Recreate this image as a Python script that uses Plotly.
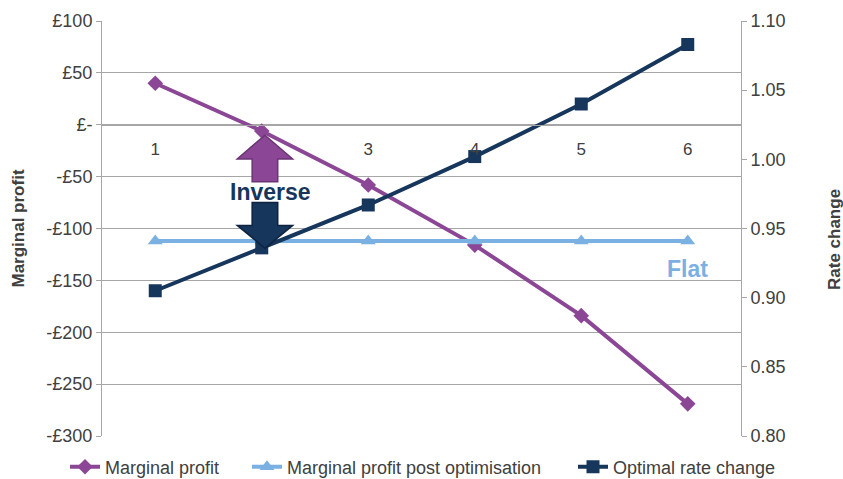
import plotly.graph_objects as go

categories = [1, 2, 3, 4, 5, 6]
marginal_profit = [40, -6, -58, -116, -184, -269]
marginal_profit_post = [-112, -112, -112, -112, -112, -112]
optimal_rate_change = [0.905, 0.936, 0.967, 1.002, 1.040, 1.083]

left_tickvals = [100, 50, 0, -50, -100, -150, -200, -250, -300]
left_ticktext = ["£100", "£50", "£-", "-£50", "-£100", "-£150", "-£200", "-£250", "-£300"]
right_tickvals = [0.80, 0.85, 0.90, 0.95, 1.00, 1.05, 1.10]
right_ticktext = ["0.80", "0.85", "0.90", "0.95", "1.00", "1.05", "1.10"]

PURPLE = "#8B4795"
LIGHTBLUE = "#7AB1E2"
NAVY = "#16365C"
TXT = "#404040"
GRID = "#A6A6A6"
FONT = "Liberation Sans, Arial, sans-serif"

W, H = 843, 479
ML, MR, MT, MB = 102, 102, 21, 43
PW = W - ML - MR
PH = H - MT - MB

fig = go.Figure()
fig.add_trace(go.Scatter(
    x=categories, y=marginal_profit, name="Marginal profit",
    mode="lines+markers", line=dict(color=PURPLE, width=4),
    marker=dict(symbol="diamond", size=12, color=PURPLE), yaxis="y", legend="legend"))
fig.add_trace(go.Scatter(
    x=categories, y=marginal_profit_post, name="Marginal profit post optimisation",
    mode="lines+markers", line=dict(color=LIGHTBLUE, width=4),
    marker=dict(symbol="triangle-up", size=13, color=LIGHTBLUE), yaxis="y", legend="legend2"))
fig.add_trace(go.Scatter(
    x=categories, y=optimal_rate_change, name="Optimal rate change",
    mode="lines+markers", line=dict(color=NAVY, width=4),
    marker=dict(symbol="square", size=13, color=NAVY), yaxis="y2", legend="legend3"))

# Block arrows around category 2
cx = 2.03
hw_head, hw_shaft = 0.26, 0.12
up = dict(tip=-10, base=-33, bottom=-55)
down = dict(top=-75, base=-97, tip=-119)
up_path = (f"M {cx-hw_shaft},{up['bottom']} L {cx-hw_shaft},{up['base']} L {cx-hw_head},{up['base']} "
           f"L {cx},{up['tip']} L {cx+hw_head},{up['base']} L {cx+hw_shaft},{up['base']} "
           f"L {cx+hw_shaft},{up['bottom']} Z")
down_path = (f"M {cx-hw_shaft},{down['top']} L {cx-hw_shaft},{down['base']} L {cx-hw_head},{down['base']} "
             f"L {cx},{down['tip']} L {cx+hw_head},{down['base']} L {cx+hw_shaft},{down['base']} "
             f"L {cx+hw_shaft},{down['top']} Z")
shapes = [
    dict(type="path", path=up_path, xref="x", yref="y", fillcolor=PURPLE,
         line=dict(color="#6A3573", width=1.5), layer="above"),
    dict(type="path", path=down_path, xref="x", yref="y", fillcolor=NAVY,
         line=dict(color="#0E2340", width=1.5), layer="above"),
]

annotations = [
    dict(text="<b>Inverse</b>", x=cx + 0.05, y=-65, xref="x", yref="y", showarrow=False,
         font=dict(size=23, color=NAVY, family=FONT)),
    dict(text="<b>Flat</b>", x=6.0, y=-139, xref="x", yref="y", showarrow=False,
         font=dict(size=23, color=LIGHTBLUE, family=FONT)),
    dict(text="<b>Marginal profit</b>", x=(18 - ML) / PW, y=0.5, xref="paper", yref="paper",
         xanchor="center", yanchor="middle", showarrow=False, textangle=-90,
         font=dict(size=17, color=TXT, family=FONT)),
    dict(text="<b>Rate change</b>", x=(834 - ML) / PW, y=(H - MB - 240) / PH, xref="paper", yref="paper",
         xanchor="center", yanchor="middle", showarrow=False, textangle=-90,
         font=dict(size=17, color=TXT, family=FONT)),
]


def legend_at(px_left):
    return dict(orientation="h", x=(px_left - ML) / PW, xanchor="left",
                y=-(467 - (H - MB)) / PH, yanchor="middle",
                font=dict(size=18, color=TXT), itemwidth=30, borderwidth=0,
                bgcolor="rgba(0,0,0,0)")


fig.update_layout(
    width=W, height=H,
    margin=dict(l=ML, r=MR, t=MT, b=MB, autoexpand=False),
    paper_bgcolor="white", plot_bgcolor="white",
    font=dict(family=FONT, size=18, color=TXT),
    showlegend=True,
    legend=legend_at(65),
    legend2=legend_at(247),
    legend3=legend_at(573),
    xaxis=dict(range=[0.5, 6.5], tickvals=categories, ticktext=[str(c) for c in categories],
               anchor="free", position=0.75, showline=True, linecolor=GRID, linewidth=1,
               showgrid=False, zeroline=False, ticks="", ticklabelstandoff=9,
               tickfont=dict(size=17, color=TXT)),
    yaxis=dict(range=[-300, 100], tickvals=left_tickvals, ticktext=left_ticktext,
               showgrid=True, gridcolor=GRID, gridwidth=1, zeroline=False,
               showline=True, linecolor=GRID, ticks="outside", ticklen=5, tickcolor=GRID,
               tickfont=dict(size=18, color=TXT)),
    yaxis2=dict(range=[0.80, 1.10], tickvals=right_tickvals, ticktext=right_ticktext,
                overlaying="y", side="right", showgrid=False, zeroline=False,
                showline=True, linecolor=GRID, ticks="outside", ticklen=5, tickcolor=GRID,
                tickfont=dict(size=18, color=TXT)),
    shapes=shapes,
    annotations=annotations,
)

fig.write_html("out.html")
